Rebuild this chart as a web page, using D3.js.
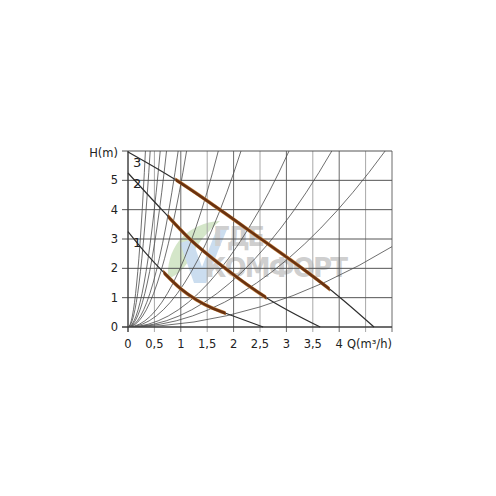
<!DOCTYPE html>
<html>
<head>
<meta charset="utf-8">
<script src="https://cdn.jsdelivr.net/npm/d3@7"></script>
<style>
  body { margin: 0; background: #fff; }
  text { font-family: "DejaVu Sans", Verdana, sans-serif; }
</style>
</head>
<body>
<script>
// chart size
var svgWidth = 496;
var svgHeight = 496;

var margin = { top: 151, right: 104, bottom: 169, left: 128 };
var width = svgWidth - margin.left - margin.right;
var height = svgHeight - margin.top - margin.bottom;

// ---- data ----
var xGrid = [0, 0.5, 1, 1.5, 2, 2.5, 3, 3.5, 4, 4.5, 5];
var yGrid = [0, 1, 2, 3, 4, 5, 6];
var xTickValues = [0, 0.5, 1, 1.5, 2, 2.5, 3, 3.5, 4];
var xTickLabels = ["0", "0,5", "1", "1,5", "2", "2,5", "3", "3,5", "4"];
var yTickValues = [0, 1, 2, 3, 4, 5];

// system curves (parabolas from origin), end points [Q, H]
var systemEnds = [
  [0.33, 6], [0.42, 6], [0.61, 6], [0.73, 6], [0.95, 6], [1.11, 6],
  [1.71, 6], [2.14, 6], [3.05, 6], [3.86, 6], [4.87, 6], [5, 2.74]
];

// pump curves for speeds 1, 2, 3: [Q, H]
var pump1 = [[0, 3.25], [0.32, 2.55], [0.67, 1.87], [1.0, 1.3], [1.3, 0.92], [1.6, 0.64], [1.85, 0.47], [2.56, 0]];
var pump2 = [[0, 5.25], [0.64, 4], [1.17, 3], [1.84, 2], [2.62, 1], [3.64, 0]];
var pump3 = [[0, 5.97], [0.92, 5], [1.74, 4], [2.52, 3], [3.3, 2], [4.02, 1], [4.66, 0]];
var pumpNames = ["1", "2", "3"];
// working range (brown part) on each pump curve, [Q from, Q to]
var workRange = [[0.67, 1.85], [0.76, 2.62], [0.9, 3.82]];

var svg = d3.select("body")
  .append("svg")
  .attr("width", svgWidth)
  .attr("height", svgHeight);

var chart = svg.append("g")
  .attr("transform", `translate(${margin.left}, ${margin.top})`);

var xScale = d3.scaleLinear().domain([0, 5]).range([0, width]);
var yScale = d3.scaleLinear().domain([0, 6]).range([height, 0]);

// watermark behind everything
var wm = chart.append("g").attr("opacity", 0.6);
wm.append("path")
  .attr("d", "M40,128 C38,95 60,72 92,70 C80,80 70,92 64,104 C58,116 50,124 40,128 Z")
  .attr("fill", "#b9d6a6");
wm.append("path")
  .attr("d", "M52,92 L66,132 L78,132 L90,100 L100,76 L88,80 L74,116 L64,88 Z")
  .attr("fill", "#a9c8e6");
wm.append("text")
  .attr("x", 85).attr("y", 95)
  .attr("textLength", 52)
  .style("font-size", "26px").style("font-weight", "bold")
  .style("fill", "#b0b0b0")
  .text("ГДЕ");
wm.append("text")
  .attr("x", 77).attr("y", 126)
  .attr("textLength", 143)
  .style("font-size", "26px").style("font-weight", "bold")
  .style("fill", "#b0b0b0")
  .text("КОМФОРТ");

// grid lines
chart.selectAll(".vgrid")
  .data(xGrid)
  .enter()
  .append("line")
  .attr("x1", d => xScale(d))
  .attr("x2", d => xScale(d))
  .attr("y1", 0)
  .attr("y2", height + 5)
  .attr("stroke", d => (d % 1 === 0) ? "#6a6a6a" : "#a8a8a8")
  .attr("stroke-width", 1);

chart.selectAll(".hgrid")
  .data(yGrid)
  .enter()
  .append("line")
  .attr("x1", -6)
  .attr("x2", width)
  .attr("y1", d => yScale(d))
  .attr("y2", d => yScale(d))
  .attr("stroke", "#555")
  .attr("stroke-width", 1);

// axis lines a bit stronger
chart.append("line")
  .attr("x1", 0).attr("x2", 0).attr("y1", 0).attr("y2", height + 5)
  .attr("stroke", "#333");
chart.append("line")
  .attr("x1", -6).attr("x2", width).attr("y1", height).attr("y2", height)
  .attr("stroke", "#333");

// clip to plot area
chart.append("clipPath").attr("id", "plotClip")
  .append("rect").attr("x", 0).attr("y", 0).attr("width", width).attr("height", height);

// system curves: parabola through origin as quadratic bezier
chart.append("g").attr("clip-path", "url(#plotClip)")
  .selectAll("path")
  .data(systemEnds)
  .enter()
  .append("path")
  .attr("d", d => {
    var p = d3.path();
    p.moveTo(xScale(0), yScale(0));
    p.quadraticCurveTo(xScale(d[0] / 2), yScale(0), xScale(d[0]), yScale(d[1]));
    return p.toString();
  })
  .attr("fill", "none")
  .attr("stroke", "#4a4a4a")
  .attr("stroke-width", 0.8);

// pump curves
var pumpLine = d3.line()
  .x(d => xScale(d[0]))
  .y(d => yScale(d[1]))
  .curve(d3.curveMonotoneX);

var pumps = [pump1, pump2, pump3];

chart.append("g")
  .selectAll("path")
  .data(pumps)
  .enter()
  .append("path")
  .attr("d", pumpLine)
  .attr("fill", "none")
  .attr("stroke", "#2e2e2e")
  .attr("stroke-width", 1.2);

// working ranges in brown
pumps.forEach(function (pts, i) {
  var id = "work" + i;
  chart.append("clipPath").attr("id", id)
    .append("rect")
    .attr("x", xScale(workRange[i][0]))
    .attr("width", xScale(workRange[i][1]) - xScale(workRange[i][0]))
    .attr("y", -10)
    .attr("height", height + 20);
  var g = chart.append("g").attr("clip-path", `url(#${id})`);
  g.append("path")
    .attr("d", pumpLine(pts))
    .attr("fill", "none")
    .attr("stroke", "#c98a4a")
    .attr("stroke-width", 3.6);
  g.append("path")
    .attr("d", pumpLine(pts))
    .attr("fill", "none")
    .attr("stroke", "#6a3210")
    .attr("stroke-width", 2.6);
});

// speed numbers
chart.selectAll(".pname")
  .data(pumps)
  .enter()
  .append("text")
  .attr("x", 5)
  .attr("y", d => yScale(d[0][1]) + 15)
  .style("font-size", "13px")
  .style("fill", "#222")
  .text((d, i) => pumpNames[i]);

// tick labels
chart.selectAll(".xlab")
  .data(xTickValues)
  .enter()
  .append("text")
  .attr("x", d => xScale(d))
  .attr("y", height + 21)
  .style("font-size", "11.5px")
  .style("text-anchor", "middle")
  .style("fill", "#222")
  .text((d, i) => xTickLabels[i]);

chart.selectAll(".ylab")
  .data(yTickValues)
  .enter()
  .append("text")
  .attr("x", -10)
  .attr("y", d => yScale(d) + 4)
  .style("font-size", "11.5px")
  .style("text-anchor", "end")
  .style("fill", "#222")
  .text(d => d);

// axis titles
chart.append("text")
  .attr("x", -10)
  .attr("y", 6)
  .style("font-size", "11.5px")
  .style("text-anchor", "end")
  .style("fill", "#222")
  .text("H(m)");

chart.append("text")
  .attr("x", width)
  .attr("y", height + 21)
  .style("font-size", "11.5px")
  .style("text-anchor", "end")
  .style("fill", "#222")
  .text("Q(m³/h)");
</script>
</body>
</html>
